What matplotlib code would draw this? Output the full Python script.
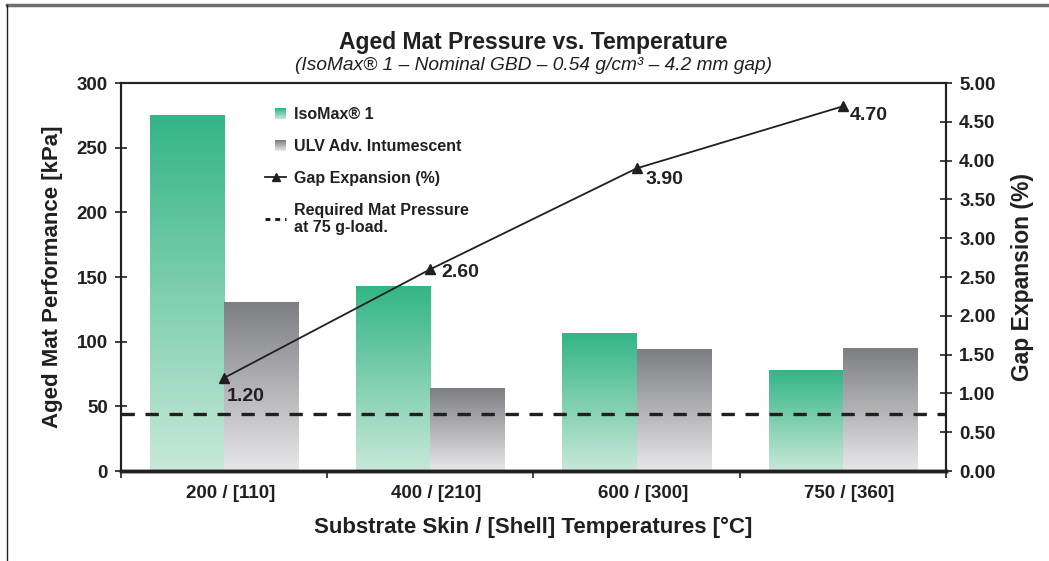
import numpy as np
import matplotlib
matplotlib.use("Agg")
import matplotlib.pyplot as plt
from matplotlib.colors import LinearSegmentedColormap
from matplotlib.patches import Rectangle
from matplotlib.lines import Line2D
from matplotlib.legend_handler import HandlerBase

plt.rcParams['font.family'] = ['Liberation Sans', 'DejaVu Sans']
plt.rcParams['font.weight'] = 'bold'
plt.rcParams['axes.labelweight'] = 'bold'

# data
categories = ['200 / [110]', '400 / [210]', '600 / [300]', '750 / [360]']
isomax = [275, 143, 106, 78]
ulv = [130, 64, 94, 95]
gap_exp = [1.20, 2.60, 3.90, 4.70]
required_pressure = 44

green_top, green_bot = '#33b587', '#c8e8d8'
gray_top, gray_bot = '#7d7e82', '#e8e8ea'
ink = '#231f20'

cmap_green = LinearSegmentedColormap.from_list('g', [green_bot, green_top])
cmap_gray = LinearSegmentedColormap.from_list('k', [gray_bot, gray_top])
grad = np.linspace(0, 1, 256).reshape(-1, 1)


class GradHandler(HandlerBase):
    def __init__(self, top, bot):
        super().__init__()
        self.top = np.array(matplotlib.colors.to_rgb(top))
        self.bot = np.array(matplotlib.colors.to_rgb(bot))

    def create_artists(self, legend, orig_handle, xdescent, ydescent,
                       width, height, fontsize, trans):
        side = height * 1.0
        x0 = width - side - xdescent
        y0 = -ydescent + (height - side) / 2
        n = 14
        arts = []
        for i in range(n):
            f = i / (n - 1)
            c = self.bot * (1 - f) + self.top * f
            arts.append(Rectangle((x0, y0 + i * side / n), side, side / n + 0.3,
                                  facecolor=c, edgecolor='none', transform=trans))
        return arts


fig = plt.figure(figsize=(10.49, 5.61), dpi=100)
ax = fig.add_axes([0.1153, 0.1604, 0.7865, 0.6916])
ax2 = ax.twinx()

x = np.arange(len(categories))
w = 0.36
for xi, v in zip(x, isomax):
    ax.imshow(grad, extent=(xi - w, xi, 0, v), origin='lower', aspect='auto',
              cmap=cmap_green, zorder=1)
for xi, v in zip(x, ulv):
    ax.imshow(grad, extent=(xi, xi + w, 0, v), origin='lower', aspect='auto',
              cmap=cmap_gray, zorder=1)

ax.axhline(required_pressure, color=ink, lw=2.4, ls=(0, (4, 3.2)), zorder=3)

ax.set_xlim(-0.5, 3.5)
ax.set_ylim(0, 300)
ax.set_yticks(np.arange(0, 301, 50))
ax.set_xticks(np.arange(-0.5, 3.6, 1))
ax.set_xticklabels([])
ax.set_xticks(x + 0.03, minor=True)
ax.set_xticklabels(categories, minor=True)
ax.tick_params(axis='x', which='major', direction='out', length=5, width=1.2, color=ink)
ax.tick_params(axis='x', which='minor', length=0, pad=10, labelsize=13.5, labelcolor=ink)
ax.tick_params(axis='y', direction='inout', length=9, width=1.2, pad=5,
               labelsize=13.5, labelcolor=ink, color=ink)

ax2.plot(x, gap_exp, color=ink, lw=1.3, marker='^', ms=7, zorder=5)
ax2.set_ylim(0, 5)
ax2.set_yticks(np.arange(0, 5.01, 0.5))
ax2.set_yticklabels(['%.2f' % t for t in np.arange(0, 5.01, 0.5)])
ax2.tick_params(axis='y', direction='inout', length=9, width=1.2, pad=5,
                labelsize=13.5, labelcolor=ink, color=ink)

offsets = [(22, -19), (30, -3), (28, -11), (26, -9)]
for xi, v, off in zip(x, gap_exp, offsets):
    ax2.annotate('%.2f' % v, (xi, v), xytext=off, textcoords='offset pixels',
                 ha='center', va='center', fontsize=14, color=ink)

for a in (ax, ax2):
    for s in a.spines.values():
        s.set_color(ink)
        s.set_linewidth(1.5)
    a.spines['bottom'].set_linewidth(2.5)

ax.set_ylabel('Aged Mat Performance [kPa]', fontsize=16, color=ink, labelpad=10)
ax2.set_ylabel('Gap Expansion (%)', fontsize=16.5, color=ink, labelpad=11)
ax.set_xlabel('Substrate Skin / [Shell] Temperatures [°C]', fontsize=16,
              color=ink, labelpad=11)

fig.text(0.5086, 0.925, 'Aged Mat Pressure vs. Temperature', ha='center', va='center',
         fontsize=16.5, color=ink)
fig.text(0.5086, 0.884, '(IsoMax® 1 – Nominal GBD – 0.54 g/cm³ – 4.2 mm gap)',
         ha='center', va='center', fontsize=13.8, style='italic', weight='normal',
         color=ink)

h_green = Rectangle((0, 0), 1, 1)
h_gray = Rectangle((0, 0), 1, 1)
h_line = Line2D([], [], color=ink, lw=1.3, marker='^', ms=6)
h_dash = Line2D([], [], color=ink, lw=2.2, ls=(0, (1.6, 1.6)))
leg = ax.legend([h_green, h_gray, h_line, h_dash],
                ['IsoMax® 1', 'ULV Adv. Intumescent', 'Gap Expansion (%)',
                 'Required Mat Pressure\nat 75 g-load.'],
                handler_map={h_green: GradHandler(green_top, green_bot),
                             h_gray: GradHandler(gray_top, gray_bot)},
                loc='upper left', bbox_to_anchor=(0.175, 0.937), frameon=False,
                fontsize=11.5, handlelength=1.3, handletextpad=0.5,
                labelspacing=1.05, borderpad=0, borderaxespad=0)
for t in leg.get_texts():
    t.set_color(ink)
leg.set_zorder(6)

# page frame
fig.add_artist(Line2D([7 / 1049, 1], [1 - 5 / 561, 1 - 5 / 561], color='#6d6e71', lw=2.5,
                      transform=fig.transFigure))
fig.add_artist(Line2D([7 / 1049, 7 / 1049], [1 - 5 / 561, 0], color=ink, lw=1,
                      transform=fig.transFigure))

fig.savefig('out.png', dpi=100)
